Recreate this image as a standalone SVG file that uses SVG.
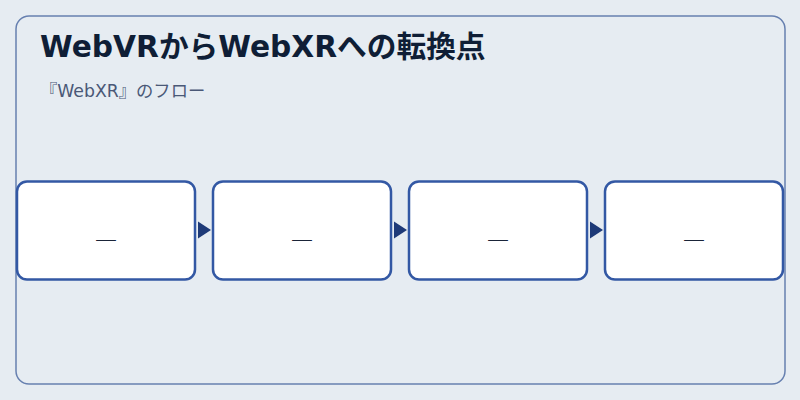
<svg xmlns="http://www.w3.org/2000/svg" width="800" height="400" viewBox="0 0 800 400">
<style>
.frame{fill:#e6ecf2;stroke:#6780b0;stroke-width:1.5}
.node{fill:#ffffff;stroke:#3358a4;stroke-width:2.5}
.title{font-family:"DejaVu Sans","Noto Sans CJK JP",sans-serif;font-weight:bold;font-size:29.7px;fill:#0f1e36}
.sub{font-family:"DejaVu Sans","Noto Sans CJK JP",sans-serif;font-size:17.3px;fill:#4a5877}
.lbl{font-family:"DejaVu Sans",sans-serif;font-weight:200;font-size:22px;fill:#1a2438;text-anchor:middle}
.arr{fill:#1e3a78}
</style>
<rect width="800" height="400" fill="#e6ecf2"/>
<rect class="frame" x="16" y="16" width="769" height="368" rx="13"/>
<text class="title" x="40" y="57">WebVRからWebXRへの転換点</text>
<text class="sub" x="40" y="97.3">『WebXR』のフロー</text>
<g id="connectors">
<polygon class="arr" points="198,221.5 211,230 198,238.5"/>
<polygon class="arr" points="394,221.5 407,230 394,238.5"/>
<polygon class="arr" points="590,221.5 603,230 590,238.5"/>
</g>
<g id="node1"><rect class="node" x="17" y="181.5" width="178" height="98" rx="10"/><text class="lbl" x="106" y="246">—</text></g>
<g id="node2"><rect class="node" x="213" y="181.5" width="178" height="98" rx="10"/><text class="lbl" x="302" y="246">—</text></g>
<g id="node3"><rect class="node" x="409" y="181.5" width="178" height="98" rx="10"/><text class="lbl" x="498" y="246">—</text></g>
<g id="node4"><rect class="node" x="605" y="181.5" width="178" height="98" rx="10"/><text class="lbl" x="694" y="246">—</text></g>
</svg>
